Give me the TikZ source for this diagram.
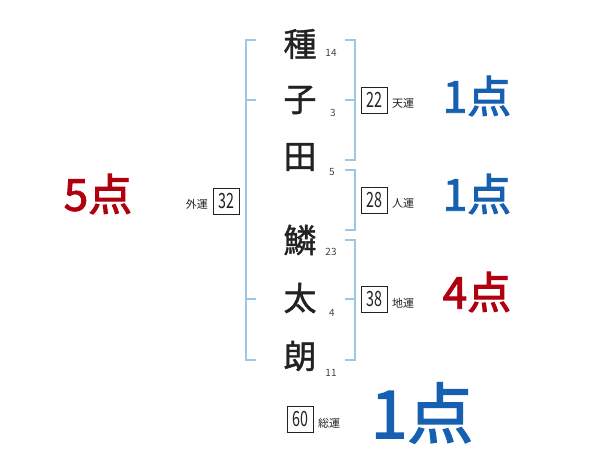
\documentclass[tikz,border=0pt]{standalone}
\usepackage{fontspec}
\newfontfamily\jp{Noto Sans CJK JP}
\newfontfamily\jpm[FakeBold=1.2]{Noto Sans CJK JP}
\newfontfamily\jpp[FakeBold=2.2]{Noto Sans CJK JP}
\newcommand{\nar}[1]{\scalebox{0.68}[1]{#1}}
\definecolor{brk}{HTML}{9CC8E8}
\definecolor{ptblue}{HTML}{1560B0}
\definecolor{ptred}{HTML}{B0000F}
\definecolor{ink}{HTML}{222222}
\begin{document}
\begin{tikzpicture}[x=1pt,y=-1pt,
  ch/.style={font=\jpm\fontsize{33}{33}\selectfont, text=ink, inner sep=0pt},
  strk/.style={font=\jp\fontsize{10}{10}\selectfont, text=ink!85, inner sep=0pt},
  lab/.style={font=\jp\fontsize{11}{11}\selectfont, text=ink, inner sep=0pt},
  numbox/.style={draw=ink, line width=0.8pt, font=\jp\fontsize{21}{21}\selectfont, text=ink, minimum width=26pt, minimum height=26pt, inner sep=0pt},
  pt/.style={font=\jpp\fontsize{44}{44}\selectfont, inner sep=0pt},
  bk/.style={draw=brk, line width=2.2pt}]
\useasboundingbox (0,0) rectangle (600,470);
% characters
\node[ch] (c1) at (300,44) {種};
\node[ch] (c2) at (300,100) {子};
\node[ch] (c3) at (300,157) {田};
\node[ch] (c4) at (300,240) {鱗};
\node[ch] (c5) at (300,298) {太};
\node[ch] (c6) at (300,356) {朗};
% stroke counts
\node[strk] (s1) at (331,53) {14};
\node[strk] (s2) at (333,113) {3};
\node[strk] (s3) at (332,172) {5};
\node[strk] (s4) at (331,252) {23};
\node[strk] (s5) at (332,313) {4};
\node[strk] (s6) at (331,373) {11};
% left bracket
\coordinate (l1) at (256,40); \coordinate (l2) at (256,360);
\draw[bk] (l1) -- (246,40) -- (246,360) -- (l2);
\draw[bk] (246,100) -- (256,100);
\draw[bk] (246,299) -- (256,299);
% right brackets
\draw[bk] (345,40) -- (355,40) -- (355,160) -- (345,160);
\draw[bk] (345,100) -- (355,100);
\draw[bk] (345,170) -- (355,170) -- (355,230) -- (345,230);
\draw[bk] (345,240) -- (355,240) -- (355,360) -- (345,360);
\draw[bk] (345,299) -- (355,299);
% boxes and labels
\node[numbox] (b22) at (374,100) {\nar{22}};
\node[lab, anchor=west] (t22) at (392,103) {天運};
\node[numbox] (b28) at (374,200) {\nar{28}};
\node[lab, anchor=west] (t28) at (392,203) {人運};
\node[numbox] (b38) at (374,299) {\nar{38}};
\node[lab, anchor=west] (t38) at (392,303) {地運};
\node[numbox] (b32) at (226,201) {\nar{32}};
\node[lab, anchor=east] (t32) at (208,204) {外運};
\node[numbox] (b60) at (300,419) {\nar{60}};
\node[lab, anchor=west] (t60) at (318,423) {総運};
% points
\node[pt, text=ptblue] (p1) at (477,96) {1点};
\node[pt, text=ptblue] (p2) at (477,194) {1点};
\node[pt, text=ptred] (p3) at (477,292) {4点};
\node[pt, text=ptred] (p4) at (98,194) {5点};
\node[pt, text=ptblue, font=\jpp\fontsize{66}{66}\selectfont] (p5) at (422,413) {1点};
\end{tikzpicture}
\end{document}
